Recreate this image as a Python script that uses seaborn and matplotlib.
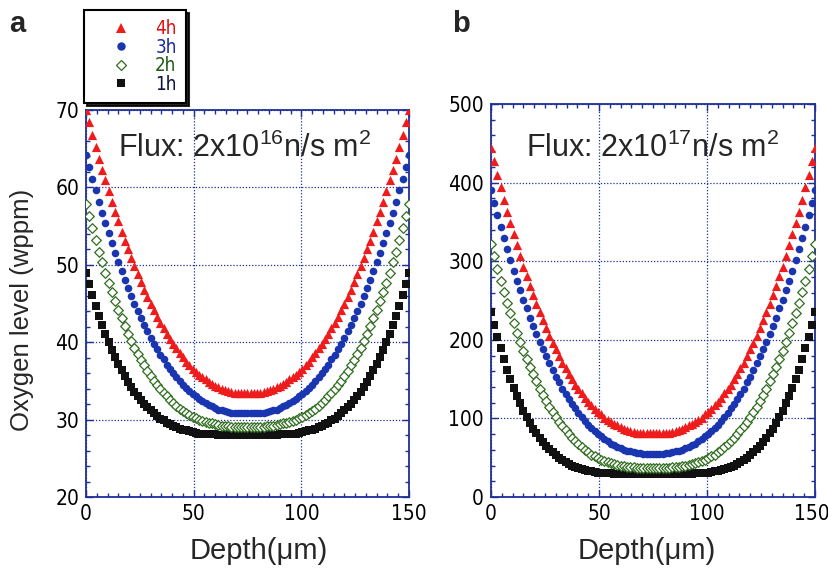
# Oxygen depth profiles after irradiation at two flux levels (panels a and b)

import matplotlib
matplotlib.use("Agg")
import matplotlib.pyplot as plt
from matplotlib import font_manager as fm
from matplotlib.font_manager import FontProperties
from matplotlib.lines import Line2D
from matplotlib.ticker import MultipleLocator
from matplotlib.transforms import ScaledTranslation
import numpy as np
import seaborn as sns

# depth grid (um), 1.5 um step across the 150 um slab
depth = np.linspace(0, 150, 101)

# panel a: flux 2x10^16 n/s m^2, oxygen (wppm)
o2_a_4h = [70.0, 68.4, 66.8, 65.2, 63.7, 62.3, 60.9, 59.5, 58.1, 56.8,
           55.6, 54.3, 53.1, 52.0, 50.9, 49.8, 48.8, 47.8, 46.8, 45.9,
           45.0, 44.1, 43.3, 42.5, 41.8, 41.1, 40.4, 39.8, 39.2, 38.6,
           38.1, 37.5, 37.1, 36.6, 36.2, 35.8, 35.5, 35.2, 34.9, 34.6,
           34.4, 34.2, 34.0, 33.8, 33.7, 33.6, 33.5, 33.5, 33.4, 33.4,
           33.4,
           33.4, 33.4, 33.5, 33.5, 33.6, 33.7, 33.8, 34.0, 34.2, 34.4,
           34.6, 34.9, 35.2, 35.5, 35.8, 36.2, 36.6, 37.1, 37.5, 38.1,
           38.6, 39.2, 39.8, 40.4, 41.1, 41.8, 42.5, 43.3, 44.1, 45.0,
           45.9, 46.8, 47.8, 48.8, 49.8, 50.9, 52.0, 53.1, 54.3, 55.6,
           56.8, 58.1, 59.5, 60.9, 62.3, 63.7, 65.2, 66.8, 68.4, 70.0]
o2_a_3h = [64.2, 62.6, 61.1, 59.6, 58.1, 56.7, 55.4, 54.1, 52.8, 51.5,
           50.4, 49.2, 48.1, 47.0, 46.0, 45.0, 44.0, 43.1, 42.2, 41.4,
           40.6, 39.8, 39.1, 38.4, 37.8, 37.1, 36.5, 36.0, 35.5, 35.0,
           34.5, 34.1, 33.7, 33.3, 33.0, 32.7, 32.4, 32.1, 31.9, 31.7,
           31.5, 31.3, 31.2, 31.1, 31.0, 30.9, 30.9, 30.8, 30.8, 30.8,
           30.8,
           30.8, 30.8, 30.8, 30.9, 30.9, 31.0, 31.1, 31.2, 31.3, 31.5,
           31.7, 31.9, 32.1, 32.4, 32.7, 33.0, 33.3, 33.7, 34.1, 34.5,
           35.0, 35.5, 36.0, 36.5, 37.1, 37.8, 38.4, 39.1, 39.8, 40.6,
           41.4, 42.2, 43.1, 44.0, 45.0, 46.0, 47.0, 48.1, 49.2, 50.4,
           51.5, 52.8, 54.1, 55.4, 56.7, 58.1, 59.6, 61.1, 62.6, 64.2]
o2_a_2h = [57.9, 56.3, 54.7, 53.2, 51.7, 50.3, 49.0, 47.7, 46.5, 45.3,
           44.2, 43.1, 42.1, 41.1, 40.2, 39.3, 38.5, 37.7, 37.0, 36.3,
           35.6, 35.0, 34.5, 33.9, 33.4, 33.0, 32.5, 32.1, 31.8, 31.4,
           31.1, 30.8, 30.6, 30.4, 30.2, 30.0, 29.8, 29.7, 29.6, 29.5,
           29.4, 29.3, 29.2, 29.2, 29.2, 29.1, 29.1, 29.1, 29.1, 29.1,
           29.1,
           29.1, 29.1, 29.1, 29.1, 29.1, 29.2, 29.2, 29.2, 29.3, 29.4,
           29.5, 29.6, 29.7, 29.8, 30.0, 30.2, 30.4, 30.6, 30.8, 31.1,
           31.4, 31.8, 32.1, 32.5, 33.0, 33.4, 33.9, 34.5, 35.0, 35.6,
           36.3, 37.0, 37.7, 38.5, 39.3, 40.2, 41.1, 42.1, 43.1, 44.2,
           45.3, 46.5, 47.7, 49.0, 50.3, 51.7, 53.2, 54.7, 56.3, 57.9]
o2_a_1h = [49.0, 47.5, 46.1, 44.7, 43.4, 42.2, 41.1, 40.0, 39.0, 38.1,
           37.2, 36.4, 35.6, 34.9, 34.2, 33.6, 33.0, 32.5, 32.0, 31.6,
           31.2, 30.8, 30.5, 30.1, 29.9, 29.6, 29.4, 29.2, 29.0, 28.8,
           28.7, 28.6, 28.5, 28.4, 28.3, 28.2, 28.2, 28.1, 28.1, 28.1,
           28.1, 28.0, 28.0, 28.0, 28.0, 28.0, 28.0, 28.0, 28.0, 28.0,
           28.0,
           28.0, 28.0, 28.0, 28.0, 28.0, 28.0, 28.0, 28.0, 28.0, 28.1,
           28.1, 28.1, 28.1, 28.2, 28.2, 28.3, 28.4, 28.5, 28.6, 28.7,
           28.8, 29.0, 29.2, 29.4, 29.6, 29.9, 30.1, 30.5, 30.8, 31.2,
           31.6, 32.0, 32.5, 33.0, 33.6, 34.2, 34.9, 35.6, 36.4, 37.2,
           38.1, 39.0, 40.0, 41.1, 42.2, 43.4, 44.7, 46.1, 47.5, 49.0]

# panel b: flux 2x10^17 n/s m^2, oxygen (wppm)
o2_b_4h = [444, 427, 410, 394, 378, 363, 348, 334, 320, 306,
           293, 281, 269, 257, 246, 235, 225, 215, 205, 196,
           188, 179, 171, 164, 157, 150, 143, 137, 132, 126,
           121, 117, 112, 108, 105, 101, 98, 95, 93, 91,
           89, 87, 85, 84, 83, 82, 82, 81, 81, 81,
           81,
           81, 81, 81, 82, 82, 83, 84, 85, 87, 89,
           91, 93, 95, 98, 101, 105, 108, 112, 117, 121,
           126, 132, 137, 143, 150, 157, 164, 171, 179, 188,
           196, 205, 215, 225, 235, 246, 257, 269, 281, 293,
           306, 320, 334, 348, 363, 378, 394, 410, 427, 444]
o2_b_3h = [390, 374, 359, 344, 329, 315, 301, 288, 275, 263,
           251, 240, 228, 218, 207, 197, 188, 179, 170, 161,
           153, 146, 138, 131, 125, 118, 113, 107, 102, 97,
           92, 88, 84, 80, 77, 74, 71, 68, 66, 64,
           62, 60, 59, 58, 57, 56, 56, 55, 55, 55,
           55,
           55, 55, 55, 56, 56, 57, 58, 59, 60, 62,
           64, 66, 68, 71, 74, 77, 80, 84, 88, 92,
           97, 102, 107, 113, 118, 125, 131, 138, 146, 153,
           161, 170, 179, 188, 197, 207, 218, 228, 240, 251,
           263, 275, 288, 301, 315, 329, 344, 359, 374, 390]
o2_b_2h = [322, 306, 290, 275, 261, 247, 234, 221, 209, 197,
           186, 176, 166, 156, 147, 138, 130, 122, 115, 108,
           102, 96, 90, 85, 80, 75, 71, 67, 63, 60,
           57, 54, 52, 49, 47, 46, 44, 43, 42, 41,
           40, 39, 38, 38, 38, 37, 37, 37, 37, 37,
           37,
           37, 37, 37, 37, 37, 38, 38, 38, 39, 40,
           41, 42, 43, 44, 46, 47, 49, 52, 54, 57,
           60, 63, 67, 71, 75, 80, 85, 90, 96, 102,
           108, 115, 122, 130, 138, 147, 156, 166, 176, 186,
           197, 209, 221, 234, 247, 261, 275, 290, 306, 322]
o2_b_1h = [236, 219, 203, 189, 175, 162, 150, 139, 129, 119,
           110, 102, 94, 87, 81, 75, 70, 65, 61, 57,
           53, 50, 47, 45, 42, 40, 38, 37, 36, 34,
           33, 33, 32, 31, 31, 30, 30, 30, 29, 29,
           29, 29, 29, 29, 29, 29, 29, 29, 29, 29,
           29,
           29, 29, 29, 29, 29, 29, 29, 29, 29, 29,
           29, 29, 30, 30, 30, 31, 31, 32, 33, 33,
           34, 36, 37, 38, 40, 42, 45, 47, 50, 53,
           57, 61, 65, 70, 75, 81, 87, 94, 102, 110,
           119, 129, 139, 150, 162, 175, 189, 203, 219, 236]

series_labels = ["4h", "3h", "2h", "1h"]
flux_labels = ["Flux: 2x10$^{16}$n/s m$^{2}$", "Flux: 2x10$^{17}$n/s m$^{2}$"]
depth_ticks = [0, 50, 100, 150]

NAVY = "#1f2f96"
RED = "#ee1c1c"
BLUE = "#1a35b0"
GREEN = "#2f6e1e"
BLACK = "#111111"

styles = {
    "4h": dict(marker="^", color=RED, facecolor=RED, s=44, linewidth=0),
    "3h": dict(marker="o", color=BLUE, facecolor=BLUE, s=30, linewidth=0),
    "2h": dict(marker="D", color=GREEN, facecolor="white", s=24, linewidth=0.9),
    "1h": dict(marker="s", color=BLACK, facecolor=BLACK, s=28, linewidth=0),
}
text_colors = {"4h": "#e01010", "3h": "#1a2aa0", "2h": "#1e5a14", "1h": "#0e1040"}


def narrow_font():
    # look for an installed condensed / narrow face for the tick labels
    for f in fm.fontManager.ttflist:
        name = f.fname.lower()
        if ("narrow" in name or "condensed" in name) and f.weight in (400, "normal", "regular") \
                and f.style == "normal" and "mono" not in name and "cjk" not in name:
            return f.fname
    return None


sns.set_style("ticks")
plt.rcParams["font.family"] = ["Liberation Sans", "DejaVu Sans"]
plt.rcParams["mathtext.fontset"] = "custom"
plt.rcParams["mathtext.rm"] = "Liberation Sans"
plt.rcParams["mathtext.it"] = "Liberation Sans:italic"

narrow_path = narrow_font()
if narrow_path:
    tick_fp = FontProperties(fname=narrow_path, size=15)
    legend_fp = FontProperties(fname=narrow_path, size=13.5)
else:
    tick_fp = FontProperties(family="Liberation Sans", size=13.5)
    legend_fp = FontProperties(family="Liberation Sans", size=12.5)

W, H = 829, 569
fig = plt.figure(figsize=(W / 100, H / 100), dpi=100)
ax_a = fig.add_axes([86 / W, 1 - 497 / H, 323 / W, 387 / H])
ax_b = fig.add_axes([491 / W, 1 - 497 / H, 324 / W, 393 / H])

panels = [
    (ax_a, [o2_a_4h, o2_a_3h, o2_a_2h, o2_a_1h], (20, 70), 10, 2),
    (ax_b, [o2_b_4h, o2_b_3h, o2_b_2h, o2_b_1h], (0, 500), 100, 20),
]

for ax, data, ylim, ymaj, ymin in panels:
    # draw 1h first so the longer exposures sit on top
    for lab, vals in reversed(list(zip(series_labels, data))):
        sns.scatterplot(x=depth, y=vals, ax=ax, legend=False, zorder=3,
                        edgecolor=styles[lab]["color"], **styles[lab])
    ax.set_xlim(0, 150)
    ax.set_ylim(*ylim)
    ax.set_xticks(depth_ticks)
    ax.xaxis.set_minor_locator(MultipleLocator(5))
    ax.yaxis.set_major_locator(MultipleLocator(ymaj))
    ax.yaxis.set_minor_locator(MultipleLocator(ymin))
    ax.grid(True, which="major", color=NAVY, linestyle=(0, (1, 1.5)), linewidth=0.9)
    ax.tick_params(which="both", direction="in", top=True, right=True,
                   color=NAVY, width=1, labelcolor="black")
    ax.tick_params(which="major", length=5, pad=5)
    ax.tick_params(which="minor", length=3)
    for sp in ax.spines.values():
        sp.set_color(NAVY)
        sp.set_linewidth(1.3)
    for t in ax.get_xticklabels() + ax.get_yticklabels():
        t.set_fontproperties(tick_fp)
    ax.set_xlabel("")
    ax.set_ylabel("")

# keep the last depth label of panel b inside the canvas
last = ax_b.get_xticklabels()[-1]
last.set_transform(last.get_transform() + ScaledTranslation(-3 / 100, 0, fig.dpi_scale_trans))

# flux annotations
fig.text(245 / W, 1 - 157 / H, flux_labels[0], ha="center", va="baseline", fontsize=22)
fig.text(653 / W, 1 - 157 / H, flux_labels[1], ha="center", va="baseline", fontsize=22)

# axis titles
fig.text(259 / W, 1 - 551 / H, "Depth(μm)", ha="center", va="center", fontsize=21)
fig.text(647 / W, 1 - 551 / H, "Depth(μm)", ha="center", va="center", fontsize=21)
fig.text(22 / W, 1 - 310 / H, "Oxygen level (wppm)", rotation=90, ha="center",
         va="center", fontsize=18.5)

# panel letters
fig.text(9 / W, 1 - 32 / H, "a", fontsize=21, fontweight="bold", va="baseline")
fig.text(452 / W, 1 - 32 / H, "b", fontsize=21, fontweight="bold", va="baseline")

# legend above panel a
handles = []
for lab in series_labels:
    st = styles[lab]
    handles.append(Line2D([], [], linestyle="none", marker=st["marker"],
                          markerfacecolor=st["facecolor"], markeredgecolor=st["color"],
                          markeredgewidth=max(st["linewidth"], 0.01),
                          markersize=np.sqrt(st["s"]) * 1.1))
leg = fig.legend(handles, series_labels, loc="upper left",
                 bbox_to_anchor=(84 / W, 1 - 10 / H), bbox_transform=fig.transFigure,
                 frameon=True, shadow={"color": "black", "alpha": 0.85},
                 fancybox=False, borderaxespad=0,
                 borderpad=0.5, labelspacing=-0.03, handlelength=3.0,
                 handletextpad=0.3, prop=legend_fp)
leg.get_frame().set_edgecolor("black")
leg.get_frame().set_linewidth(1.5)
for txt, lab in zip(leg.get_texts(), series_labels):
    txt.set_color(text_colors[lab])

fig.savefig("out.png", dpi=100)
